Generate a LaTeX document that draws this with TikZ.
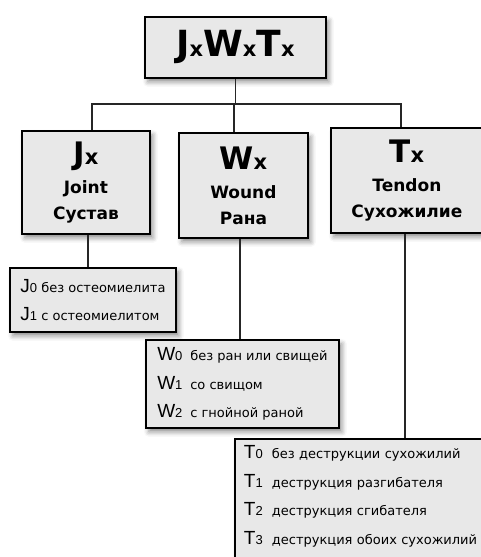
\documentclass[tikz,border=0pt]{standalone}
\usepackage{fontspec}
\setmainfont{DejaVu Sans}
\newfontfamily\lettfont{Liberation Sans}
\usetikzlibrary{shadows.blur}
\definecolor{boxgray}{HTML}{E8E8E8}
\newcommand\hsub[1]{{\fontsize{21}{21}\selectfont #1}}
\newcommand\grade[3]{\makebox[#1][l]{{\lettfont\fontsize{19}{19}\selectfont #2}{\lettfont\fontsize{13}{13}\selectfont #3}}}
\tikzset{
  catbox/.style={draw=black, line width=1.8pt, fill=boxgray, inner sep=0pt,
    blur shadow={shadow xshift=3pt, shadow yshift=-4pt, shadow blur radius=5pt, shadow opacity=45}},
  headbox/.style={catbox, align=center, anchor=north west,
    font=\bfseries\fontsize{17}{26}\selectfont},
  gradebox/.style={catbox, align=left, anchor=north west, inner xsep=9pt,
    font=\fontsize{13}{28.5}\selectfont},
  link/.style={line width=1.3pt, black!85},
}
\begin{document}
\begin{tikzpicture}[x=1pt,y=-1pt]
\useasboundingbox (0,0) rectangle (480,557);
% boxes
\node[catbox, anchor=north west, minimum width=181pt, minimum height=61pt,
  font=\bfseries\fontsize{36}{36}\selectfont] (top) at (144,16) {J\hsub{x}W\hsub{x}T\hsub{x}};
\node[headbox, minimum width=128pt, minimum height=103pt] (joint) at (21,130)
  {{\fontsize{31}{31}\selectfont J\hsub{x}}\\[3pt] Joint\\ Сустав};
\node[headbox, minimum width=129pt, minimum height=105pt] (wound) at (178,132)
  {{\fontsize{31}{31}\selectfont W\hsub{x}}\\[3pt] Wound\\ Рана};
\node[headbox, minimum width=152pt, minimum height=105pt] (tendon) at (330,127)
  {{\fontsize{31}{31}\selectfont T\hsub{x}}\\[3pt] Tendon\\ Сухожилие};
\node[gradebox, minimum width=166pt, minimum height=64pt] (jgrades) at (9,267)
  {\grade{21pt}{J}{0}без остеомиелита\\ \grade{21pt}{J}{1}с остеомиелитом};
\node[gradebox, minimum width=193pt, minimum height=88pt] (wgrades) at (145,339)
  {\grade{33pt}{W}{0}без ран или свищей\\ \grade{33pt}{W}{1}со свищом\\ \grade{33pt}{W}{2}с гнойной раной};
\node[gradebox, minimum width=252pt, inner ysep=7pt, text width=234pt, text depth=120pt] (tgrades) at (234,438)
  {\grade{28pt}{T}{0}без деструкции сухожилий\\ \grade{28pt}{T}{1}деструкция разгибателя\\
   \grade{28pt}{T}{2}деструкция сгибателя\\ \grade{28pt}{T}{3}деструкция обоих сухожилий};
% tree
\coordinate (jtap) at (92,104);
\coordinate (wtap) at (234,104);
\coordinate (ttap) at (401,104);
\coordinate (jdrop) at (88,0);
\coordinate (wdrop) at (240,0);
\coordinate (tdrop) at (405,0);
\draw[link] (top.south) -- (top.south |- jtap);
\draw[link] (jtap |- joint.north) -- (jtap) -- (ttap) -- (ttap |- tendon.north);
\draw[link] (wtap) -- (wtap |- wound.north);
\draw[link] (jdrop |- joint.south) -- (jdrop |- jgrades.north);
\draw[link] (wdrop |- wound.south) -- (wdrop |- wgrades.north);
\draw[link] (tdrop |- tendon.south) -- (tdrop |- tgrades.north);
\end{tikzpicture}
\end{document}
